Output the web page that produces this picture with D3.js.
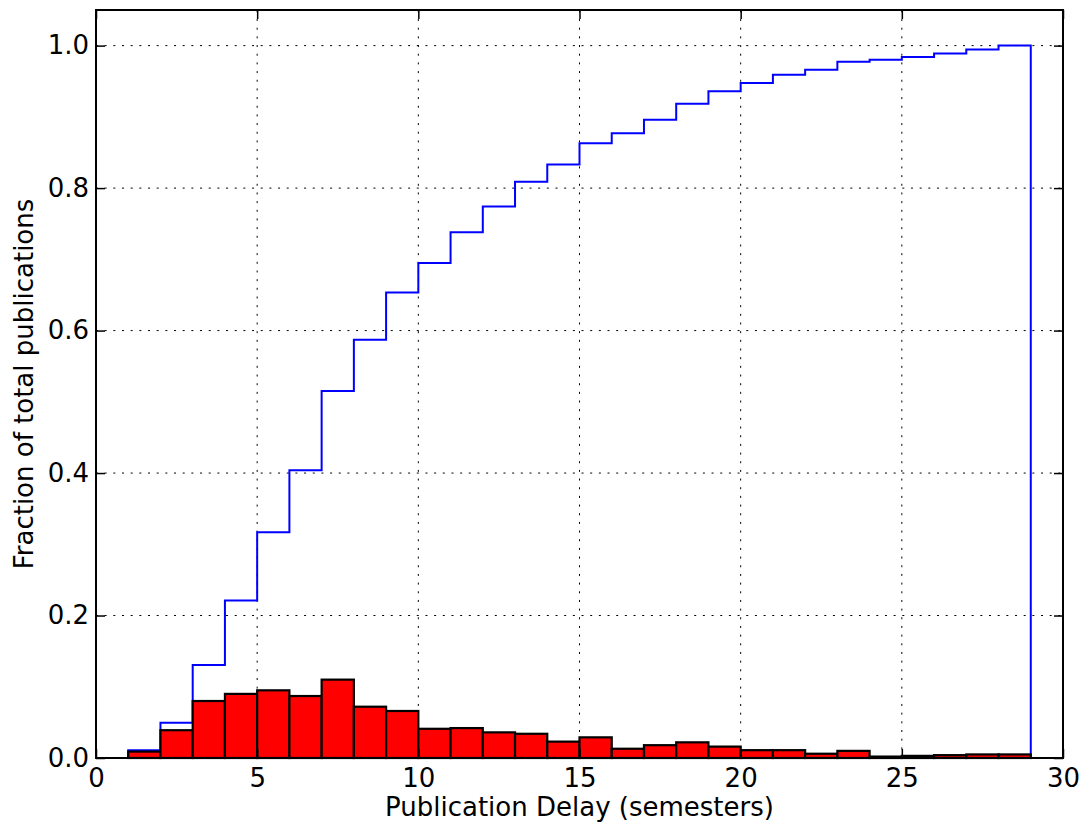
<!DOCTYPE html>
<html>
<head>
<meta charset="utf-8">
<script src="https://cdn.jsdelivr.net/npm/d3@7"></script>
<style>
  html, body { margin: 0; padding: 0; background: #fff; }
  svg { display: block; }
  text { font-family: "DejaVu Sans", sans-serif; fill: #000; }
</style>
</head>
<body>
<svg id="chart" width="1083" height="823"></svg>
<script>
// ---- data ----
const binStarts = [1,2,3,4,5,6,7,8,9,10,11,12,13,14,15,16,17,18,19,20,21,22,23,24,25,26,27,28];
const binWidth = 1;
const fraction = [0.009,0.039,0.080,0.090,0.095,0.087,0.110,0.072,0.066,0.041,0.042,0.036,0.034,0.023,0.029,0.013,0.018,0.022,0.016,0.011,0.011,0.006,0.010,0.002,0.003,0.004,0.005,0.005];
const cumulative = [0.011,0.0496,0.1306,0.221,0.317,0.404,0.515,0.587,0.6535,0.695,0.738,0.774,0.809,0.833,0.863,0.877,0.896,0.9185,0.936,0.9475,0.959,0.966,0.9775,0.980,0.984,0.9888,0.9944,1.0];
const xTicks = [0,5,10,15,20,25,30];
const yTicks = [0.0,0.2,0.4,0.6,0.8,1.0];
const xLabel = "Publication Delay (semesters)";
const yLabel = "Fraction of total publications";

// ---- layout ----
const svg = d3.select("#chart");
const L = 96, T = 10, R = 1063, B = 758;
const x = d3.scaleLinear().domain([0, 30]).range([L, R]);
const y = d3.scaleLinear().domain([0, 1.05]).range([B, T]);

// grid
const grid = svg.append("g");
grid.selectAll("line.gx").data(xTicks.slice(1, -1)).enter().append("line")
  .attr("x1", d => x(d)).attr("x2", d => x(d)).attr("y1", B).attr("y2", T)
  .attr("stroke", "#000").attr("stroke-width", 1).attr("stroke-dasharray", "2,6.67");
grid.selectAll("line.gy").data(yTicks.slice(1)).enter().append("line")
  .attr("x1", L).attr("x2", R).attr("y1", d => y(d)).attr("y2", d => y(d))
  .attr("stroke", "#000").attr("stroke-width", 1).attr("stroke-dasharray", "2,6.67");

// cumulative step line
const pts = [[binStarts[0], 0]];
binStarts.forEach((s, i) => {
  pts.push([s, cumulative[i]]);
  pts.push([s + binWidth, cumulative[i]]);
});
pts.push([binStarts[binStarts.length - 1] + binWidth, 0]);
svg.append("path")
  .attr("d", d3.line().x(d => x(d[0])).y(d => y(d[1]))(pts))
  .attr("fill", "none").attr("stroke", "#0000ff").attr("stroke-width", 2)
  .attr("stroke-linejoin", "miter");

// bars
svg.append("g").selectAll("rect").data(binStarts).enter().append("rect")
  .attr("x", d => x(d))
  .attr("width", d => x(d + binWidth) - x(d))
  .attr("y", (d, i) => y(fraction[i]))
  .attr("height", (d, i) => y(0) - y(fraction[i]))
  .attr("fill", "#ff0000").attr("stroke", "#000").attr("stroke-width", 2.2);

// axes (ticks inward on all sides)
const tickLen = 9;
const fs = 26;
const xAxisB = d3.axisBottom(x).tickValues(xTicks).tickFormat(d3.format("d")).tickSizeInner(-tickLen).tickSizeOuter(0).tickPadding(11);
const gxb = svg.append("g").attr("transform", `translate(0,${B})`).call(xAxisB);
const xAxisT = d3.axisTop(x).tickValues(xTicks).tickFormat("").tickSizeInner(-tickLen).tickSizeOuter(0);
const gxt = svg.append("g").attr("transform", `translate(0,${T})`).call(xAxisT);
const yAxisL = d3.axisLeft(y).tickValues(yTicks).tickFormat(d3.format(".1f")).tickSizeInner(-tickLen).tickSizeOuter(0).tickPadding(7);
const gyl = svg.append("g").attr("transform", `translate(${L},0)`).call(yAxisL);
const yAxisR = d3.axisRight(y).tickValues(yTicks).tickFormat("").tickSizeInner(-tickLen).tickSizeOuter(0);
const gyr = svg.append("g").attr("transform", `translate(${R},0)`).call(yAxisR);

[gxb, gxt, gyl, gyr].forEach(g => {
  g.select(".domain").remove();
  g.selectAll(".tick line").attr("stroke", "#000").attr("stroke-width", 1.5);
  g.selectAll(".tick text").style("font-family", "'DejaVu Sans', sans-serif").style("font-size", fs + "px").attr("fill", "#000");
});

// frame
svg.append("rect").attr("x", L).attr("y", T).attr("width", R - L).attr("height", B - T)
  .attr("fill", "none").attr("stroke", "#000").attr("stroke-width", 2);

// labels
svg.append("text").attr("x", (L + R) / 2).attr("y", 816).attr("text-anchor", "middle")
  .style("font-size", fs + "px").text(xLabel);
svg.append("text").attr("transform", `translate(33,${(T + B) / 2}) rotate(-90)`).attr("text-anchor", "middle")
  .style("font-size", fs + "px").text(yLabel);
</script>
</body>
</html>
